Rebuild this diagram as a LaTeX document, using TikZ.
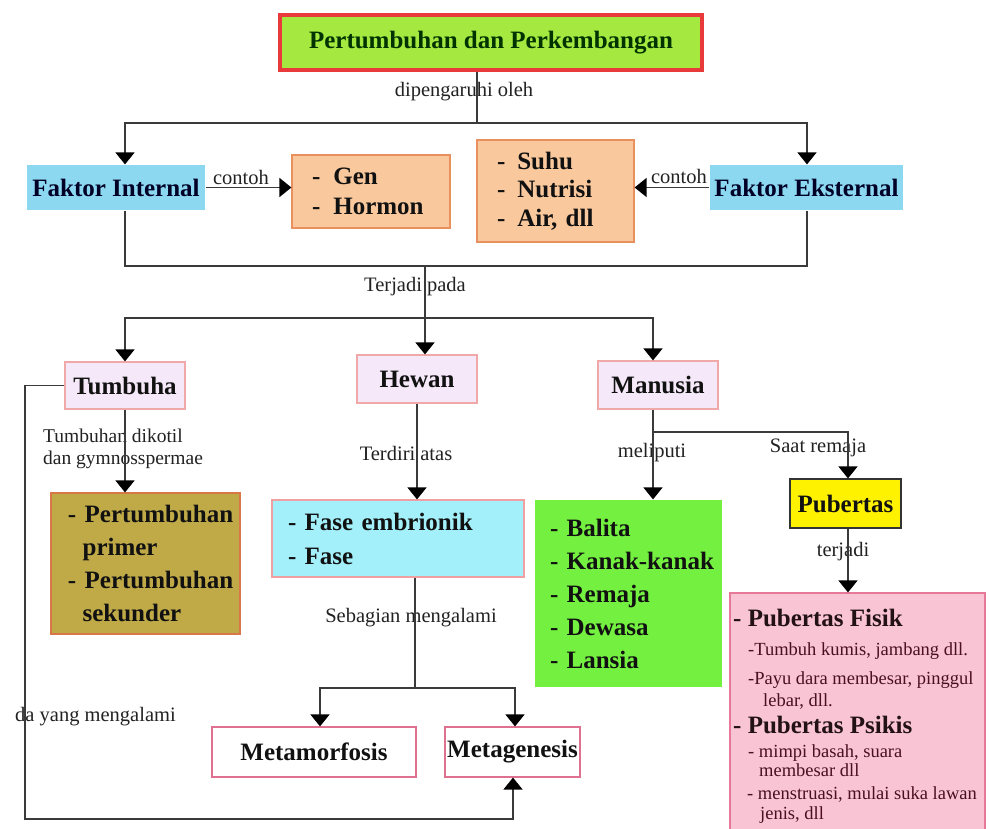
\documentclass[tikz,border=0pt]{standalone}
\usepackage{fontspec}
\setmainfont{Liberation Serif}
\usetikzlibrary{arrows.meta}
\definecolor{titlered}{HTML}{E83A3A}
\definecolor{titlegreen}{HTML}{A4E840}
\definecolor{fakblue}{HTML}{8CD8F0}
\definecolor{salmon}{HTML}{F9C89C}
\definecolor{salmonb}{HTML}{E89060}
\definecolor{lav}{HTML}{F5E8F8}
\definecolor{lavb}{HTML}{F0A8A8}
\definecolor{olive}{HTML}{C0AA48}
\definecolor{oliveb}{HTML}{D87848}
\definecolor{cyanb}{HTML}{A4F0FA}
\definecolor{cyanbd}{HTML}{F0A0A0}
\definecolor{metab}{HTML}{E07090}
\definecolor{brgreen}{HTML}{74F040}
\definecolor{pinkf}{HTML}{F9C4D4}
\definecolor{pinkb}{HTML}{E87898}
\definecolor{linec}{HTML}{3A3A3A}
\definecolor{txt}{HTML}{111111}
\definecolor{labc}{HTML}{222222}
\definecolor{maroon}{HTML}{4A1020}
\begin{document}
\begin{tikzpicture}[x=1pt,y=-1pt,
  box/.style={rectangle, inner sep=0pt, font=\fontsize{25}{30}\selectfont\bfseries, text=txt, line width=1.2pt},
  lab/.style={font=\fontsize{20.5}{22}\selectfont, text=labc, inner sep=0pt},
  small/.style={font=\fontsize{18.5}{20}\selectfont, text=maroon, inner sep=0pt, anchor=base west},
  big/.style={font=\fontsize{25}{28}\selectfont\bfseries, text=txt!70!maroon, inner sep=0pt, anchor=base west},
  ln/.style={draw=linec, line width=1.6pt},
  arr/.style={ln, -{Triangle[width=19pt,length=12pt,color=black]}}]
\useasboundingbox (0,0) rectangle (989,829);
\fill[white] (0,0) rectangle (989,829);

% boxes
\node[box, fill=titlegreen, draw=titlered, line width=4pt, minimum width=422pt, minimum height=55pt, text=black!80!green] (title) at (491,42.5) {Pertumbuhan dan Perkembangan};
\node[box, fill=fakblue, minimum width=178pt, minimum height=45pt, text=black!85!blue] (fi) at (116,187.5) {Faktor Internal};
\node[box, fill=fakblue, minimum width=193pt, minimum height=45pt, text=black!85!blue] (fe) at (806.5,187.5) {Faktor Eksternal};
\node[box, fill=salmon, draw=salmonb, minimum height=73pt, text width=158pt, align=left, font=\fontsize{25}{30}\selectfont\bfseries] (gen) at (371,191.5) {\hspace*{20pt}-\hspace{13pt}Gen\\\hspace*{20pt}-\hspace{13pt}Hormon};
\node[box, fill=salmon, draw=salmonb, minimum height=102pt, text width=157pt, align=left, font=\fontsize{25}{28.5}\selectfont\bfseries] (suhu) at (555.5,191) {\hspace*{20pt}-\hspace{12pt}Suhu\\\hspace*{20pt}-\hspace{12pt}Nutrisi\\\hspace*{20pt}-\hspace{12pt}Air, dll};
\node[box, fill=lav, draw=lavb, minimum width=120pt, minimum height=47pt] (tumbuha) at (125,385.5) {Tumbuha};
\node[box, fill=lav, draw=lavb, minimum width=120pt, minimum height=48pt] (hewan) at (417,379) {Hewan};
\node[box, fill=lav, draw=lavb, minimum width=120pt, minimum height=48pt] (manusia) at (658,385) {Manusia};
\node[box, fill=olive, draw=oliveb, minimum height=141pt, text width=189pt, align=left, font=\fontsize{25}{33}\selectfont\bfseries] (pert) at (145.5,563.5) {\hspace*{17pt}-~Pertumbuhan\\\hspace*{31.6pt}primer\\\hspace*{17pt}-~Pertumbuhan\\\hspace*{31.6pt}sekunder};
\node[box, fill=cyanb, draw=cyanbd, minimum height=77pt, text width=252pt, align=left, font=\fontsize{25}{34}\selectfont\bfseries] (fase) at (398,538.5) {\hspace*{16pt}-~Fase embrionik\\\hspace*{16pt}-~Fase};
\node[box, fill=white, draw=metab, minimum width=204pt, minimum height=50pt] (meta1) at (314,752) {Metamorfosis};
\node[box, fill=white, draw=metab, minimum width=135pt, minimum height=50pt] (meta2) at (512.5,752) {Metagenesis};
\node[box, fill=brgreen, minimum height=187pt, text width=187pt, align=left, font=\fontsize{25}{33}\selectfont\bfseries] (balita) at (628.5,593.5) {\hspace*{15pt}-~Balita\\\hspace*{15pt}-~\mbox{Kanak-kanak}\\\hspace*{15pt}-~Remaja\\\hspace*{15pt}-~Dewasa\\\hspace*{15pt}-~Lansia};
\node[box, fill=yellow, draw=black!80, minimum width=111pt, minimum height=49pt] (pub) at (845.5,503.5) {Pubertas};
\node[box, fill=pinkf, draw=pinkb, minimum width=255pt, minimum height=240pt] (pink) at (857.5,713) {};

% pink box text
\node[big] (p1) at (733,626) {- Pubertas Fisik};
\node[small] (p2) at (748,655) {-Tumbuh kumis, jambang dll.};
\node[small] (p3) at (748,684) {-Payu dara membesar, pinggul};
\node[small] (p4) at (763,706) {lebar, dll.};
\node[big] (p5) at (733,733) {- Pubertas Psikis};
\node[small] (p6) at (748,757) {- mimpi basah, suara};
\node[small] (p7) at (759,776) {membesar dll};
\node[small] (p8) at (747,799) {- menstruasi, mulai suka lawan};
\node[small] (p9) at (760,819) {jenis, dll};

% labels
\node[lab] (l1) at (464,92) {dipengaruhi oleh};
\node[lab] (l2) at (241,177) {contoh};
\node[lab] (l3) at (679,176) {contoh};
\node[lab] (l4) at (415,287) {Terjadi pada};
\node[lab, anchor=west, align=left, font=\fontsize{19.5}{22}\selectfont] (l5) at (43,449) {Tumbuhan dikotil\\dan gymnosspermae};
\node[lab] (l6) at (406,453) {Terdiri atas};
\node[lab] (l7) at (652,453) {meliputi};
\node[lab] (l8) at (818,448) {Saat remaja};
\node[lab] (l9) at (843,552) {terjadi};
\node[lab] (l10) at (411,618) {Sebagian mengalami};
\node[lab] (l11) at (95.5,717) {da yang mengalami};

% junction coordinates
\coordinate (j1) at (477,123);
\coordinate (xfi) at (125,0);
\coordinate (xfe) at (807,0);
\coordinate (j2) at (425,266);
\coordinate (j3) at (425,318);
\coordinate (xman) at (653,0);
\coordinate (jL) at (25,819);
\coordinate (xm2) at (513,0);
\coordinate (j4) at (415,688);
\coordinate (xm1) at (320,0);
\coordinate (xm2b) at (515,0);
\coordinate (j5) at (653,432);
\coordinate (xpub) at (848,0);

% connectors
\draw[ln] (title.south -| j1) -- (j1);
\draw[arr] (j1) -| (fi.north -| xfi);
\draw[arr] (j1) -| (fe.north -| xfe);
\draw[arr] (fi.east) -- (fi.east -| gen.west);
\draw[arr] (fe.west) -- (fe.west -| suhu.east);
\draw[ln] (fi.south -| xfi) |- (j2) -| (fe.south -| xfe);
\draw[arr] (j2) -- (hewan.north -| j2);
\draw[arr] (j3) -| (tumbuha.north);
\draw[arr] (j3) -| (manusia.north -| xman);
\draw[arr] (tumbuha.south) -- (pert.north -| tumbuha.south);
\draw[arr] (tumbuha.west) -| (jL) -| (meta2.south -| xm2);
\draw[arr] (hewan.south) -- (fase.north -| hewan.south);
\draw[ln] (fase.south -| j4) -- (j4);
\draw[arr] (j4) -| (meta1.north -| xm1);
\draw[arr] (j4) -| (meta2.north -| xm2b);
\draw[arr] (manusia.south -| xman) -- (balita.north -| xman);
\draw[arr] (j5) -| (pub.north -| xpub);
\draw[arr] (pub.south -| xpub) -- (pink.north -| xpub);
\end{tikzpicture}
\end{document}
